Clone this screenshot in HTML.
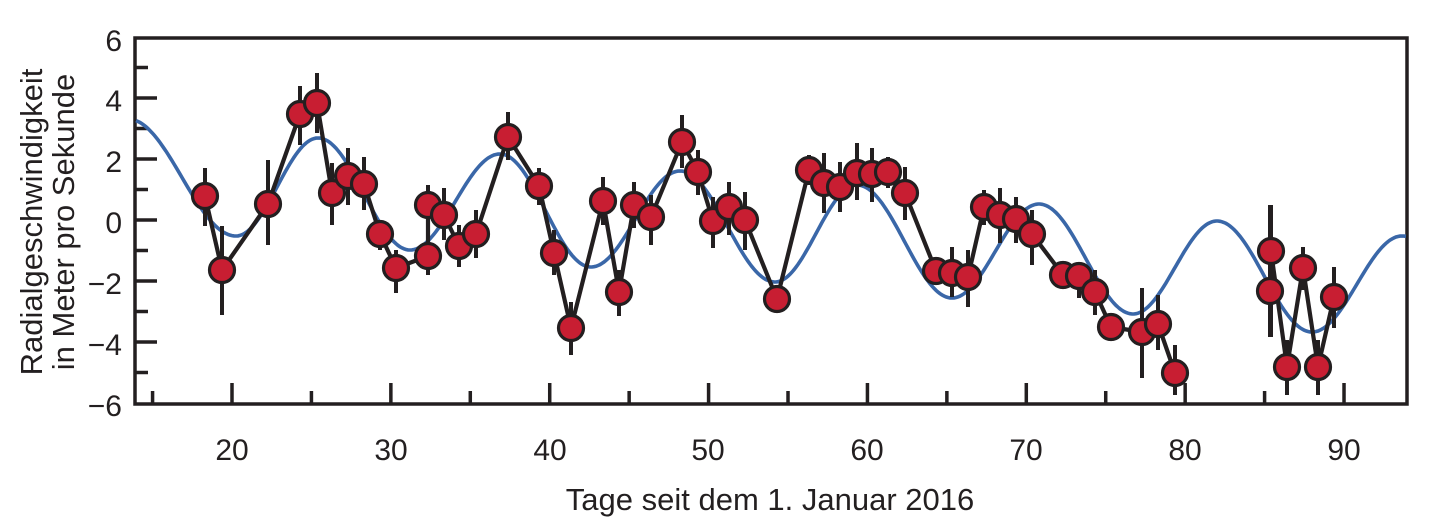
<!DOCTYPE html>
<html><head><meta charset="utf-8"><style>
html,body{margin:0;padding:0;background:#fff;}
svg{display:block;}
text{font-family:"Liberation Sans",sans-serif;fill:#231f20;}
</style></head><body>
<svg id="s" width="1454" height="530" viewBox="0 0 1454 530" xmlns="http://www.w3.org/2000/svg">
<g id="axes" stroke="#231f20" stroke-width="3.5" fill="none"></g>
<g font-size="30" text-anchor="end">
<text x="122" y="51">6</text><text x="122" y="111">4</text><text x="122" y="172">2</text>
<text x="122" y="233">0</text><text x="122" y="294">−2</text><text x="122" y="355">−4</text>
<text x="122" y="416">−6</text>
</g>
<g font-size="30" text-anchor="middle">
<text x="232" y="460">20</text><text x="391" y="460">30</text><text x="550" y="460">40</text>
<text x="708" y="460">50</text><text x="867" y="460">60</text><text x="1026" y="460">70</text>
<text x="1185" y="460">80</text><text x="1344" y="460">90</text>
<text x="770" y="510" font-size="31">Tage seit dem 1. Januar 2016</text>
<text transform="translate(42,222) rotate(-90)" font-size="31">Radialgeschwindigkeit</text>
<text transform="translate(74,222) rotate(-90)" font-size="31">in Meter pro Sekunde</text>
</g>
<path id="curve" fill="none" stroke="#3a67a8" stroke-width="3.6"/>
<g id="data"></g>
</svg>
<script>
var NS="http://www.w3.org/2000/svg";
function el(p,t,a){var e=document.createElementNS(NS,t);for(var k in a)e.setAttribute(k,a[k]);p.appendChild(e);return e;}
var ax=document.getElementById('axes');
el(ax,'rect',{x:135,y:38,width:1272,height:366});
for(var v=-5;v<=5;v++){var yy=220-30.5*v;var L=(v%2==0)?22:13;el(ax,'line',{x1:135,y1:yy,x2:135+L,y2:yy});}
for(var dd=15;dd<=90;dd+=5){var xx=232+(dd-20)*15.886;var L2=(dd%10==0)?21:13;el(ax,'line',{x1:xx,y1:404,x2:xx,y2:404-L2});}
var ex=[[128,119],[236,236],[318,138],[410,250],[500,154],[591,267],[680,171],[775,282],[857,185],[952,298],[1039,204],[1133,314],[1217,221],[1312,332],[1402,236],[1500,300]];
var pd="";
for(var x=136;x<=1406;x+=2){var i=0;while(i<ex.length-2&&x>ex[i+1][0])i++;
var a=ex[i],b=ex[i+1];var t=(x-a[0])/(b[0]-a[0]);var y=a[1]+(b[1]-a[1])*(1-Math.cos(Math.PI*t))/2;
pd+=(pd?"L":"M")+x+","+y.toFixed(1);}
document.getElementById('curve').setAttribute('d',pd);
var P=[[205,196,168,226],[222,270,226,315],[268,204,160,245],[300,114,86,145],[317,103,73,133],[332,193,163,225],[348,176,148,205],[364,184,157,210],[380,234,220,250],[396,268,250,293],[428,256,185,275],[428,205,185,275],[444,215,188,240],[459,246,225,267],[476,234,210,258],[508,137,112,160],[539,186,168,205],[554,253,230,275],[571,328,302,355],[603,201,177,225],[619,292,270,316],[634,205,182,228],[651,217,195,245],[682,142,115,168],[698,172,150,195],[713,221,197,248],[729,207,182,235],[745,220,192,250],[777,299,285,312],[809,170,155,185],[824,183,153,213],[840,187,162,212],[857,173,143,200],[872,174,148,202],[888,172,157,188],[905,193,167,220],[936,271,257,285],[952,273,247,297],[968,277,250,307],[984,207,190,225],[1000,215,188,243],[1016,219,197,243],[1032,234,210,265],[1063,275,262,288],[1079,276,263,298],[1095,292,270,315],[1111,327,313,340],[1142,332,288,378],[1158,324,295,350],[1175,373,345,395],[1270,291,205,337],[1271,251,205,337],[1287,367,340,395],[1303,268,247,290],[1318,367,340,395],[1334,297,267,328]];
var g=document.getElementById('data');
var ld="";for(var j=0;j<P.length;j++){ld+=((j==0||P[j][0]-P[j-1][0]>60)?"M":"L")+P[j][0]+","+P[j][1];}
el(g,'path',{d:ld,fill:'none',stroke:'#231f20','stroke-width':4.2,'stroke-linejoin':'round'});
for(var j=0;j<P.length;j++){var p=P[j];el(g,'line',{x1:p[0],y1:p[2],x2:p[0],y2:p[3],stroke:'#231f20','stroke-width':4});}
for(var j=0;j<P.length;j++){var p=P[j];el(g,'circle',{cx:p[0],cy:p[1],r:12.5,fill:'#c81e32',stroke:'#231f20','stroke-width':3.2});}
</script>
</body></html>
